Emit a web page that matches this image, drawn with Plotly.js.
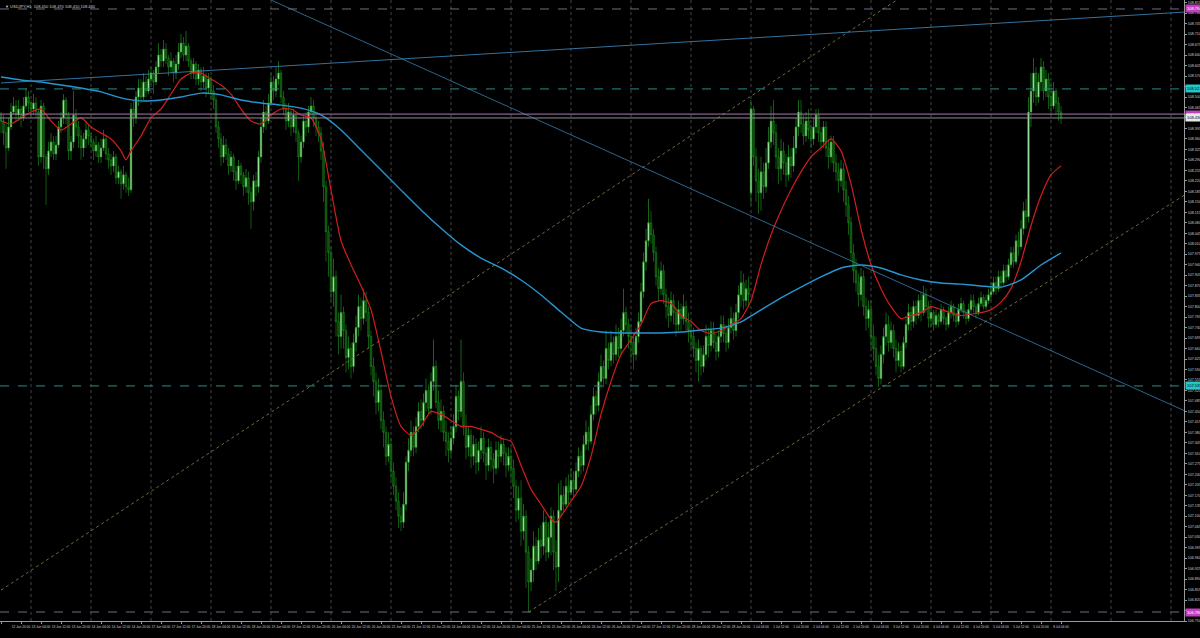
<!DOCTYPE html>
<html>
<head>
<meta charset="utf-8">
<script src="https://cdn.plot.ly/plotly-3.0.1.min.js"></script>
<style>
html,body{margin:0;padding:0;background:#000;}
#chart{width:1200px;height:638px;}
</style>
</head>
<body>
<div id="chart"></div>
<script>
// ---------- DATA (USDJPY, H1) ----------
const symbolName = "USDJPY,H1";
const tradingDays = ["12 Jun","13 Jun","14 Jun","17 Jun","18 Jun","19 Jun","20 Jun","21 Jun","24 Jun","25 Jun","26 Jun","27 Jun","28 Jun","1 Jul","2 Jul","3 Jul","4 Jul","5 Jul","8 Jul"];
const firstHour = 12;
const yearLabel = "2019";
const firstOpen = 108.44;
const gapBars = [300];
const gapOpens = [108.18];

const closes = [
108.42,108.38,108.33,108.40,108.45,108.47,108.44,108.46,108.43,108.47,108.50,108.48,
108.46,108.48,108.45,108.30,108.47,108.30,108.26,108.32,108.35,108.31,108.34,108.40,108.43,108.49,108.44,108.32,108.35,108.44,108.40,108.37,108.33,108.36,108.39,108.37,
108.35,108.32,108.34,108.30,108.33,108.36,108.31,108.29,108.27,108.30,108.23,108.25,108.21,108.24,108.20,108.19,108.46,108.43,108.50,108.53,108.50,108.55,108.52,108.56,
108.58,108.55,108.60,108.64,108.62,108.66,108.63,108.60,108.62,108.58,108.61,108.65,108.68,108.64,108.67,108.62,108.58,108.61,108.56,108.59,108.55,108.57,108.53,108.56,
108.52,108.49,108.40,108.36,108.30,108.34,108.31,108.27,108.30,108.25,108.22,108.27,108.24,108.20,108.23,108.18,108.15,108.22,108.20,108.30,108.40,108.45,108.42,108.48,
108.55,108.52,108.56,108.58,108.50,108.46,108.42,108.45,108.40,108.44,108.38,108.30,108.35,108.42,108.40,108.45,108.47,108.43,108.40,108.38,108.32,108.20,108.05,107.98,
107.85,107.90,107.75,107.70,107.78,107.72,107.63,107.66,107.60,107.68,107.73,107.80,107.76,107.82,107.78,107.70,107.60,107.55,107.48,107.52,107.42,107.38,107.30,107.34,
107.25,107.20,107.15,107.10,107.08,107.14,107.28,107.32,107.38,107.33,107.40,107.45,107.42,107.48,107.52,107.46,107.55,107.60,107.48,107.42,107.45,107.38,107.35,107.32,
107.36,107.40,107.50,107.45,107.55,107.40,107.33,107.37,107.30,107.34,107.28,107.32,107.36,107.31,107.27,107.33,107.29,107.26,107.32,107.30,107.34,107.31,107.27,107.30,
107.26,107.20,107.12,107.16,107.05,107.10,106.98,106.88,106.92,107.00,106.95,107.02,107.00,107.08,106.98,107.03,107.10,106.98,106.93,107.12,107.17,107.14,107.20,107.18,
107.22,107.19,107.25,107.30,107.27,107.34,107.38,107.35,107.44,107.50,107.47,107.55,107.60,107.56,107.66,107.62,107.68,107.64,107.70,107.66,107.72,107.78,107.74,107.70,
107.68,107.64,107.70,107.75,107.85,107.95,108.02,108.08,108.04,107.98,107.90,107.86,107.92,107.84,107.80,107.77,107.82,107.78,107.74,107.79,107.76,107.80,107.75,107.72,
107.70,107.66,107.62,107.66,107.60,107.64,107.70,107.67,107.72,107.68,107.65,107.70,107.74,107.71,107.68,107.73,107.76,107.72,107.78,107.84,107.88,107.82,107.86,107.84,
108.46,108.30,108.22,108.18,108.25,108.20,108.28,108.35,108.42,108.38,108.30,108.26,108.32,108.28,108.24,108.30,108.27,108.33,108.40,108.45,108.41,108.37,108.42,108.39,
108.36,108.40,108.44,108.38,108.35,108.40,108.33,108.30,108.35,108.28,108.25,108.22,108.26,108.19,108.14,108.08,107.98,107.92,107.88,107.84,107.90,107.80,107.76,107.79,
107.70,107.66,107.60,107.56,107.64,107.70,107.74,107.68,107.72,107.66,107.62,107.65,107.60,107.68,107.74,107.78,107.75,107.80,107.77,107.82,107.78,107.84,107.80,107.76,
107.78,107.74,107.77,107.75,107.79,107.76,107.74,107.78,107.80,107.77,107.75,107.79,107.81,107.78,107.76,107.79,107.82,107.80,107.78,107.81,107.83,107.80,107.82,107.84,
107.85,107.88,107.86,107.90,107.88,107.92,107.90,107.94,107.98,107.95,108.02,108.00,108.06,108.12,108.10,108.45,108.52,108.58,108.50,108.55,108.60,108.52,108.56,108.50,
108.47,108.52,108.48,108.45,108.43
];
const highs = [
108.45,108.44,108.41,108.43,108.48,108.50,108.49,108.49,108.47,108.50,108.53,108.52,
108.49,108.51,108.50,108.46,108.49,108.48,108.31,108.35,108.38,108.37,108.37,108.42,108.45,108.51,108.50,108.45,108.37,108.52,108.46,108.42,108.39,108.38,108.42,108.41,
108.38,108.36,108.37,108.35,108.36,108.39,108.37,108.33,108.31,108.32,108.31,108.27,108.26,108.27,108.25,108.23,108.48,108.49,108.52,108.56,108.56,108.58,108.57,108.59,
108.60,108.59,108.62,108.68,108.66,108.69,108.68,108.64,108.65,108.63,108.64,108.68,108.71,108.70,108.72,108.68,108.63,108.63,108.62,108.61,108.60,108.60,108.58,108.58,
108.57,108.54,108.50,108.42,108.38,108.37,108.36,108.33,108.32,108.31,108.27,108.29,108.28,108.25,108.26,108.25,108.20,108.24,108.25,108.32,108.43,108.49,108.47,108.51,
108.58,108.57,108.60,108.62,108.59,108.52,108.48,108.48,108.46,108.46,108.45,108.39,108.37,108.44,108.45,108.47,108.50,108.49,108.45,108.42,108.40,108.35,108.22,108.07,
108.00,107.96,107.92,107.78,107.84,107.80,107.74,107.70,107.68,107.71,107.77,107.84,107.83,107.86,107.85,107.80,107.72,107.63,107.58,107.56,107.54,107.45,107.40,107.38,
107.36,107.28,107.23,107.18,107.13,107.18,107.30,107.36,107.42,107.40,107.43,107.48,107.49,107.51,107.56,107.54,107.58,107.69,107.62,107.52,107.49,107.47,107.42,107.38,
107.40,107.44,107.54,107.52,107.69,107.58,107.44,107.40,107.39,107.37,107.36,107.35,107.40,107.38,107.33,107.36,107.35,107.31,107.35,107.35,107.37,107.36,107.33,107.33,
107.33,107.29,107.22,107.20,107.22,107.14,107.12,107.00,106.96,107.05,107.03,107.06,107.07,107.12,107.10,107.08,107.13,107.12,107.02,107.21,107.22,107.20,107.23,107.24,
107.26,107.25,107.28,107.33,107.32,107.37,107.42,107.40,107.47,107.53,107.52,107.58,107.64,107.62,107.72,107.68,107.72,107.70,107.74,107.73,107.76,107.86,107.80,107.76,
107.74,107.71,107.73,107.78,107.88,107.98,108.06,108.16,108.12,108.06,108.00,107.93,107.95,107.94,107.86,107.83,107.85,107.84,107.80,107.82,107.81,107.84,107.82,107.78,
107.75,107.73,107.68,107.69,107.67,107.67,107.74,107.73,107.75,107.75,107.71,107.72,107.77,107.77,107.74,107.76,107.80,107.78,107.81,107.87,107.92,107.91,107.89,107.90,
108.49,108.47,108.33,108.26,108.30,108.28,108.33,108.40,108.47,108.49,108.41,108.33,108.36,108.35,108.31,108.34,108.33,108.37,108.43,108.49,108.49,108.44,108.45,108.46,
108.41,108.43,108.46,108.46,108.40,108.42,108.42,108.36,108.37,108.37,108.31,108.28,108.29,108.28,108.22,108.17,108.10,108.01,107.96,107.91,107.93,107.92,107.83,107.82,
107.82,107.74,107.70,107.64,107.67,107.73,107.78,107.77,107.75,107.74,107.69,107.68,107.67,107.70,107.77,107.81,107.80,107.82,107.82,107.84,107.85,107.87,107.86,107.82,
107.81,107.79,107.79,107.78,107.81,107.80,107.77,107.80,107.82,107.81,107.78,107.81,107.83,107.82,107.79,107.81,107.84,107.84,107.81,107.83,107.85,107.84,107.84,107.86,
107.88,107.90,107.90,107.92,107.92,107.94,107.94,107.96,108.00,108.00,108.04,108.05,108.09,108.15,108.16,108.50,108.58,108.63,108.60,108.58,108.63,108.62,108.59,108.58,
108.55,108.55,108.53,108.50,108.47
];
const lows = [
108.38,108.34,108.26,108.32,108.39,108.44,108.42,108.42,108.40,108.42,108.46,108.45,
108.43,108.44,108.43,108.27,108.28,108.26,108.14,108.24,108.30,108.29,108.29,108.33,108.38,108.41,108.41,108.29,108.29,108.33,108.37,108.33,108.29,108.30,108.33,108.34,
108.33,108.29,108.30,108.28,108.28,108.32,108.29,108.26,108.24,108.25,108.21,108.21,108.16,108.19,108.18,108.17,108.18,108.40,108.41,108.47,108.48,108.49,108.50,108.51,
108.54,108.51,108.54,108.58,108.60,108.60,108.61,108.57,108.58,108.55,108.56,108.59,108.63,108.62,108.62,108.60,108.56,108.56,108.54,108.54,108.52,108.53,108.50,108.51,
108.49,108.46,108.38,108.33,108.27,108.28,108.29,108.24,108.25,108.22,108.19,108.21,108.21,108.17,108.18,108.14,108.06,108.12,108.17,108.18,108.28,108.38,108.39,108.41,
108.47,108.49,108.50,108.54,108.48,108.44,108.39,108.40,108.37,108.38,108.35,108.22,108.28,108.33,108.37,108.38,108.43,108.40,108.37,108.35,108.29,108.15,107.95,107.90,
107.82,107.80,107.70,107.64,107.66,107.66,107.58,107.59,107.56,107.58,107.65,107.70,107.72,107.74,107.75,107.66,107.57,107.50,107.44,107.45,107.39,107.33,107.27,107.28,
107.22,107.17,107.12,107.06,107.05,107.06,107.12,107.25,107.30,107.30,107.31,107.38,107.39,107.40,107.45,107.44,107.44,107.52,107.46,107.39,107.38,107.35,107.30,107.28,
107.30,107.34,107.38,107.42,107.43,107.37,107.29,107.30,107.26,107.27,107.24,107.25,107.29,107.28,107.22,107.25,107.25,107.21,107.24,107.26,107.28,107.27,107.23,107.25,
107.22,107.16,107.08,107.09,107.00,107.02,106.86,106.78,106.85,106.88,106.92,106.94,106.96,106.97,106.95,106.96,106.97,106.92,106.85,106.88,107.10,107.11,107.13,107.14,
107.17,107.16,107.18,107.23,107.24,107.25,107.32,107.32,107.34,107.42,107.44,107.45,107.53,107.53,107.54,107.59,107.60,107.61,107.62,107.63,107.64,107.70,107.71,107.66,
107.62,107.59,107.62,107.68,107.74,107.83,107.92,108.00,108.01,107.95,107.87,107.82,107.84,107.81,107.76,107.73,107.75,107.74,107.70,107.72,107.72,107.74,107.72,107.68,
107.66,107.63,107.58,107.55,107.57,107.58,107.62,107.63,107.65,107.66,107.62,107.63,107.68,107.68,107.65,107.66,107.71,107.69,107.70,107.76,107.80,107.79,107.80,107.80,
108.14,108.27,108.15,108.11,108.12,108.16,108.18,108.26,108.33,108.34,108.26,108.21,108.22,108.24,108.20,108.22,108.23,108.25,108.31,108.37,108.38,108.34,108.35,108.36,
108.33,108.34,108.38,108.35,108.32,108.33,108.30,108.26,108.28,108.25,108.22,108.18,108.20,108.15,108.10,108.04,107.95,107.88,107.85,107.80,107.82,107.77,107.72,107.73,
107.66,107.62,107.57,107.53,107.54,107.61,107.67,107.65,107.66,107.63,107.58,107.60,107.58,107.59,107.66,107.72,107.72,107.73,107.74,107.76,107.75,107.77,107.78,107.73,
107.73,107.72,107.73,107.73,107.74,107.74,107.72,107.73,107.76,107.75,107.73,107.74,107.78,107.76,107.74,107.75,107.78,107.78,107.76,107.77,107.80,107.79,107.79,107.81,
107.82,107.84,107.84,107.85,107.86,107.87,107.88,107.89,107.93,107.93,107.94,107.97,107.99,108.04,108.06,108.08,108.40,108.48,108.47,108.48,108.52,108.49,108.50,108.46,
108.44,108.46,108.44,108.42,108.41
];

// Moving averages (bar index -> price)
const redMaBars = [0,4,8,12,16,20,24,28,32,36,40,44,48,50,52,56,60,64,68,72,76,80,84,88,92,96,100,104,108,112,116,120,124,128,132,136,140,144,148,152,156,160,164,168,172,176,180,184,188,192,196,200,204,208,212,216,220,222,224,228,232,236,240,244,248,252,256,260,264,268,272,276,280,284,288,292,296,300,304,308,312,316,320,324,328,332,336,340,344,348,352,356,360,364,368,372,376,380,384,388,392,396,400,404,408,412,416,420,424];
const redMaValues = [108.42,108.41,108.43,108.45,108.46,108.42,108.39,108.41,108.43,108.40,108.38,108.36,108.32,108.29,108.32,108.37,108.43,108.46,108.51,108.56,108.58,108.58,108.56,108.54,108.51,108.46,108.42,108.41,108.44,108.46,108.46,108.44,108.43,108.36,108.19,108.02,107.94,107.87,107.79,107.65,107.50,107.40,107.37,107.40,107.45,107.44,107.42,107.40,107.40,107.39,107.38,107.36,107.35,107.27,107.19,107.14,107.09,107.08,107.10,107.15,107.20,107.30,107.44,107.55,107.64,107.69,107.74,107.81,107.82,107.81,107.77,107.75,107.72,107.71,107.72,107.74,107.76,107.82,107.94,108.04,108.12,108.19,108.25,108.30,108.33,108.36,108.32,108.21,108.06,107.94,107.86,107.80,107.76,107.77,107.78,107.80,107.79,107.78,107.77,107.775,107.78,107.79,107.815,107.86,107.95,108.07,108.17,108.24,108.27];
const blueMaBars = [0,8,16,24,32,40,48,56,64,72,80,88,96,104,112,120,128,136,144,152,160,168,176,184,192,200,208,216,224,232,240,248,256,264,272,280,288,296,304,312,320,328,336,344,352,360,368,376,384,392,400,408,416,424];
const blueMaValues = [108.567,108.557,108.550,108.540,108.530,108.517,108.497,108.487,108.490,108.500,108.513,108.507,108.490,108.480,108.473,108.463,108.440,108.390,108.323,108.256,108.189,108.123,108.062,108.006,107.962,107.929,107.889,107.839,107.782,107.728,107.715,107.712,107.712,107.712,107.715,107.722,107.728,107.749,107.789,107.829,107.865,107.899,107.929,107.939,107.929,107.906,107.889,107.879,107.875,107.869,107.865,107.889,107.939,107.979];

// Trend lines (anchor bars / prices)
const trendDownBars = [108, 474];
const trendDownPrices = [108.824, 107.45];
const trendUpBlueBars = [0, 474];
const trendUpBluePrices = [108.547, 108.784];
const channelUpperBars = [0, 400];
const channelUpperPrices = [106.853, 109.053];
const channelLowerBars = [211, 474];
const channelLowerPrices = [106.78, 108.176];

// Horizontal levels
const dashedLevels = [108.794, 108.527, 107.535, 106.780];
const violetLevel = 108.443;
const gridBars = [12,36,60,84,108,132,156,180,204,228,252,276,300,324,348,372,396,420,444,468];

// ---------- BUILD ----------
const n = closes.length;
const bars = closes.map((_, i) => i);
const opens = closes.map((c, i) => i === 0 ? firstOpen : closes[i - 1]);
gapBars.forEach((b, k) => { opens[b] = gapOpens[k]; });
const hi = highs.map((h, i) => Math.max(h, opens[i], closes[i]));
const lo = lows.map((l, i) => Math.min(l, opens[i], closes[i]));
const bidLevel = closes[n - 1];

const tickBars = [], tickText = [];
for (let i = 0; i < n; i += 8) {
  const d = Math.floor((i + firstHour) / 24), h = (i + firstHour) % 24;
  tickBars.push(i);
  tickText.push(i === 0 ? tradingDays[0] + " " + yearLabel : tradingDays[d] + " " + String(h).padStart(2, "0") + ":00");
}

const FONT = "Liberation Sans, Arial, sans-serif";
const traces = [
  {
    type: "candlestick", x: bars, open: opens, high: hi, low: lo, close: closes,
    increasing: { line: { color: "#22a822", width: 0.6 }, fillcolor: "#c6f7c6" },
    decreasing: { line: { color: "#1c951c", width: 0.6 }, fillcolor: "#083808" },
    whiskerwidth: 0, hoverinfo: "skip"
  },
  { type: "scatter", mode: "lines", x: redMaBars, y: redMaValues, line: { color: "#d21e1e", width: 1.2, shape: "spline", smoothing: 0.6 }, hoverinfo: "skip" },
  { type: "scatter", mode: "lines", x: blueMaBars, y: blueMaValues, line: { color: "#2596d2", width: 1.4, shape: "spline", smoothing: 0.6 }, hoverinfo: "skip" },
  { type: "scatter", mode: "lines", x: trendDownBars, y: trendDownPrices, line: { color: "#3a7fb0", width: 0.8 }, hoverinfo: "skip" },
  { type: "scatter", mode: "lines", x: trendUpBlueBars, y: trendUpBluePrices, line: { color: "#3a7fb0", width: 0.9 }, hoverinfo: "skip" },
  { type: "scatter", mode: "lines", x: channelUpperBars, y: channelUpperPrices, line: { color: "#8f8450", width: 0.8, dash: "dot" }, hoverinfo: "skip" },
  { type: "scatter", mode: "lines", x: channelLowerBars, y: channelLowerPrices, line: { color: "#8f8450", width: 0.8, dash: "dot" }, hoverinfo: "skip" }
];

const dashedStyles = [
  { color: "#6a7085", box: "#c040c0", txt: "#ffffff" },
  { color: "#2b8c8c", box: "#20c8c8", txt: "#000000" },
  { color: "#2b8c8c", box: "#20c8c8", txt: "#000000" },
  { color: "#6a6a8a", box: "#c040c0", txt: "#ffffff" }
];

const shapes = [];
gridBars.forEach(b => shapes.push({ type: "line", xref: "x", yref: "paper", x0: b, x1: b, y0: 0, y1: 1, line: { color: "#454545", width: 1, dash: "dot" }, layer: "below" }));
dashedLevels.forEach((p, k) => shapes.push({ type: "line", xref: "paper", yref: "y", x0: 0, x1: 1, y0: p, y1: p, line: { color: dashedStyles[k].color, width: 1, dash: "dash" } }));
shapes.push({ type: "line", xref: "paper", yref: "y", x0: 0, x1: 1, y0: violetLevel, y1: violetLevel, line: { color: "#a878b0", width: 1 } });
shapes.push({ type: "line", xref: "paper", yref: "y", x0: 0, x1: 1, y0: bidLevel, y1: bidLevel, line: { color: "#8c8c8c", width: 1 } });

const annotations = [];
function priceLabel(p, bg, fg) {
  annotations.push({ xref: "paper", yref: "y", x: 1, y: p, xanchor: "left", yanchor: "middle", xshift: 1,
    text: p.toFixed(3), showarrow: false, bgcolor: bg, borderpad: 1, font: { family: FONT, size: 4, color: fg } });
}
dashedLevels.forEach((p, k) => priceLabel(p, dashedStyles[k].box, dashedStyles[k].txt));
priceLabel(violetLevel, "#c040c0", "#ffffff");
priceLabel(bidLevel, "#e8e8e8", "#000000");
annotations.push({ xref: "paper", yref: "paper", x: 0, y: 1, xanchor: "left", yanchor: "top", xshift: 3, yshift: -2, showarrow: false,
  text: "▼ " + symbolName + "  " + opens[n-1].toFixed(3) + " " + hi[n-1].toFixed(3) + " " + lo[n-1].toFixed(3) + " " + closes[n-1].toFixed(3),
  font: { family: FONT, size: 4, color: "#d0d0d0" } });

const layout = {
  width: 1200, height: 638,
  margin: { l: 0, r: 16, t: 0, b: 17, pad: 0 },
  paper_bgcolor: "#000000", plot_bgcolor: "#000000",
  showlegend: false, boxgap: 0.15,
  font: { family: FONT, color: "#d0d0d0" },
  xaxis: {
    range: [-0.4, 473.2], tickmode: "array", tickvals: tickBars, ticktext: tickText, tickangle: 0,
    showgrid: false, zeroline: false, showline: true, linecolor: "#9a9a9a", linewidth: 1,
    ticks: "outside", ticklen: 2, tickcolor: "#9a9a9a",
    tickfont: { family: FONT, size: 3.2, color: "#d0d0d0" },
    rangeslider: { visible: false }, fixedrange: true
  },
  yaxis: {
    range: [106.75, 108.824], side: "right", tickmode: "linear", tick0: 106.75, dtick: 0.035, tickformat: ".3f",
    showgrid: false, zeroline: false, showline: true, linecolor: "#9a9a9a", linewidth: 1,
    ticks: "outside", ticklen: 2, tickcolor: "#9a9a9a",
    tickfont: { family: FONT, size: 3.6, color: "#d0d0d0" }, fixedrange: true
  },
  shapes: shapes,
  annotations: annotations
};

Plotly.newPlot("chart", traces, layout, { staticPlot: true, displayModeBar: false });
</script>
</body>
</html>
